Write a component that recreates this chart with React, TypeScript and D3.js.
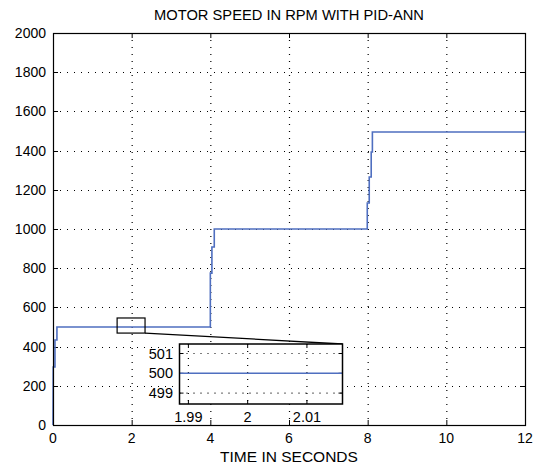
import React from "react";
import * as d3 from "d3";

const title = "MOTOR SPEED IN RPM WITH PID-ANN";
const xLabel = "TIME IN SECONDS";
const xTicks = [0, 2, 4, 6, 8, 10, 12];
const yTicks = [0, 200, 400, 600, 800, 1000, 1200, 1400, 1600, 1800, 2000];

const speedTime = [0, 0.005, 0.05, 0.05, 0.1, 0.1, 4.0, 4.0, 4.04, 4.04, 4.1, 4.1, 7.99, 7.99, 8.04, 8.04, 8.09, 8.09, 8.12, 8.12, 12];
const speedRpm = [0, 296, 296, 434, 434, 500, 500, 775, 775, 908, 908, 1000, 1000, 1133, 1133, 1265, 1265, 1393, 1393, 1495, 1495];

const insetTime = [1.9885, 2.016];
const insetRpm = [500, 500];
const insetXTicks = [1.99, 2, 2.01];
const insetYTicks = [499, 500, 501];
const insetXDomain = [1.9885, 2.016];
const insetYDomain = [498.45, 501.48];

const zoomBoxT = [1.63, 2.34];
const zoomBoxRpm = [469, 546];

const W = 539, H = 466;
const L = 53, R = 525, T = 33, B = 425;
const IL = 179.5, IR = 342.5, IT = 344, IB = 404;
const BLUE = "#4f6fc0";
const FONT = "'Liberation Sans', Arial, sans-serif";

export default function App() {
  const x = d3.scaleLinear().domain([0, 12]).range([L, R]);
  const y = d3.scaleLinear().domain([0, 2000]).range([B, T]);
  const ix = d3.scaleLinear().domain(insetXDomain).range([IL, IR]);
  const iy = d3.scaleLinear().domain(insetYDomain).range([IB, IT]);

  const mainLine = d3.line<number>().x((_, i) => x(speedTime[i])).y((d) => y(d))(speedRpm) || "";
  const insetLine = d3.line<number>().x((_, i) => ix(insetTime[i])).y((d) => iy(d))(insetRpm) || "";

  const dots = "1 6";
  const tk = 5;

  return (
    <svg width={W} height={H} style={{ position: "absolute", left: 0, top: 0, background: "#fff" }} fontFamily={FONT}>
      <rect x={0} y={0} width={W} height={H} fill="#fff" />
      <text x={(L + R) / 2} y={20} textAnchor="middle" fontSize={14.7}>{title}</text>
      {/* grid */}
      {xTicks.slice(1, -1).map((t) => (
        <line key={"gx" + t} x1={x(t) + 0.5} x2={x(t) + 0.5} y1={T} y2={B} stroke="#000" strokeDasharray={dots} strokeWidth={1.2} />
      ))}
      {yTicks.slice(1, -1).map((t) => (
        <line key={"gy" + t} x1={L} x2={R} y1={Math.round(y(t)) + 0.5} y2={Math.round(y(t)) + 0.5} stroke="#000" strokeDasharray={dots} strokeWidth={1.2} />
      ))}
      {/* ticks */}
      {xTicks.map((t) => (
        <g key={"tx" + t}>
          <line x1={x(t) + 0.5} x2={x(t) + 0.5} y1={B} y2={B - tk} stroke="#000" />
          <line x1={x(t) + 0.5} x2={x(t) + 0.5} y1={T} y2={T + tk} stroke="#000" />
          <text x={x(t)} y={443} textAnchor="middle" fontSize={14}>{t}</text>
        </g>
      ))}
      {yTicks.map((t) => (
        <g key={"ty" + t}>
          <line x1={L} x2={L + tk} y1={Math.round(y(t)) + 0.5} y2={Math.round(y(t)) + 0.5} stroke="#000" />
          <line x1={R} x2={R - tk} y1={Math.round(y(t)) + 0.5} y2={Math.round(y(t)) + 0.5} stroke="#000" />
          <text x={46} y={y(t) + 5} textAnchor="end" fontSize={14}>{t}</text>
        </g>
      ))}
      <path d={mainLine} fill="none" stroke={BLUE} strokeWidth={1.6} />
      <rect x={L + 0.5} y={T + 0.5} width={R - L} height={B - T} fill="none" stroke="#000" strokeWidth={1.2} />
      <text x={(L + R) / 2} y={462} textAnchor="middle" fontSize={15.5}>{xLabel}</text>

      {/* zoom box & connector */}
      <rect x={x(zoomBoxT[0])} y={y(zoomBoxRpm[1])} width={x(zoomBoxT[1]) - x(zoomBoxT[0])} height={y(zoomBoxRpm[0]) - y(zoomBoxRpm[1])} fill="none" stroke="#000" strokeWidth={1.2} />
      <line x1={x(zoomBoxT[1])} y1={y(zoomBoxRpm[0])} x2={IR} y2={IT} stroke="#000" strokeWidth={1.3} />

      {/* inset */}
      <rect x={IL} y={IT} width={IR - IL} height={IB - IT} fill="#fff" />
      {insetXTicks.map((t) => (
        <g key={"ix" + t}>
          <line x1={ix(t)} x2={ix(t)} y1={IT} y2={IB} stroke="#000" strokeDasharray={dots} strokeWidth={1.2} />
          <line x1={ix(t)} x2={ix(t)} y1={IB} y2={IB - 4} stroke="#000" />
          <line x1={ix(t)} x2={ix(t)} y1={IT} y2={IT + 4} stroke="#000" />
          <text x={ix(t)} y={422} textAnchor="middle" fontSize={14.5}>{t}</text>
        </g>
      ))}
      {insetYTicks.map((t) => (
        <g key={"iy" + t}>
          {t !== 500 && <line x1={IL} x2={IR} y1={iy(t)} y2={iy(t)} stroke="#000" strokeDasharray={dots} strokeWidth={1.2} />}
          <line x1={IL} x2={IL + 4} y1={iy(t)} y2={iy(t)} stroke="#000" />
          <line x1={IR} x2={IR - 4} y1={iy(t)} y2={iy(t)} stroke="#000" />
          <text x={173} y={iy(t) + 5} textAnchor="end" fontSize={14.5}>{t}</text>
        </g>
      ))}
      <path d={insetLine} fill="none" stroke={BLUE} strokeWidth={1.6} />
      <rect x={IL} y={IT} width={IR - IL} height={IB - IT} fill="none" stroke="#000" strokeWidth={1.5} />
    </svg>
  );
}
